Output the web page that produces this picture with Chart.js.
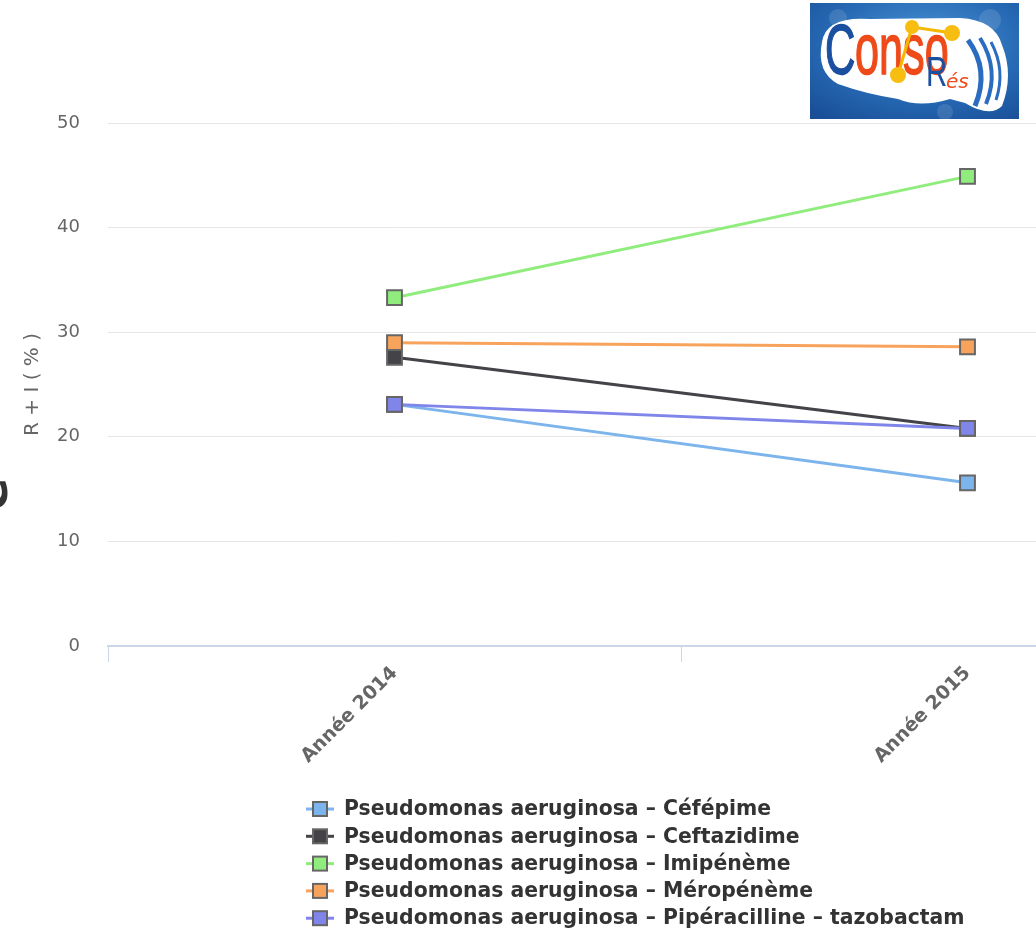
<!DOCTYPE html>
<html>
<head>
<meta charset="utf-8">
<script src="https://cdn.jsdelivr.net/npm/chart.js@4/dist/chart.umd.min.js"></script>
<style>
html,body{margin:0;padding:0;background:#fff;overflow:hidden;width:1036px;height:932px;}
#wrap{position:absolute;left:0;top:0;width:1270px;height:932px;}
#logo{position:absolute;left:810px;top:3px;width:209px;height:116px;}
</style>
</head>
<body>
<div id="wrap"><canvas id="c" width="1270" height="932"></canvas></div>
<svg id="logo" width="209" height="116" viewBox="810 3 209 116" xmlns="http://www.w3.org/2000/svg">
  <defs>
    <radialGradient id="bg" cx="0.55" cy="0.35" r="0.8">
      <stop offset="0" stop-color="#4a95d6"/>
      <stop offset="0.6" stop-color="#2668b3"/>
      <stop offset="1" stop-color="#1a4f98"/>
    </radialGradient>
  </defs>
  <rect x="810" y="3" width="209" height="116" fill="url(#bg)"/>
  <circle cx="838" cy="18" r="9" fill="#ffffff" opacity="0.12"/>
  <circle cx="990" cy="20" r="11" fill="#ffffff" opacity="0.12"/>
  <circle cx="945" cy="112" r="8" fill="#ffffff" opacity="0.12"/>
  <path d="M822,42 Q826,16 870,19 L960,18 Q995,20 1002,45 Q1014,75 1002,106 Q990,118 965,103 L950,99 Q920,108 898,99 Q866,94 838,84 Q816,72 822,42 Z" fill="#ffffff"/>
  <path d="M968,40 Q990,70 975,106" stroke="#2a6cc0" stroke-width="5" fill="none"/>
  <path d="M980,38 Q1000,70 986,104" stroke="#2a6cc0" stroke-width="4" fill="none"/>
  <path d="M991,42 Q1006,70 996,100" stroke="#2a6cc0" stroke-width="3" fill="none"/>
  <g transform="translate(825,74) scale(0.6,1)">
    <text x="0" y="0" font-family="Liberation Sans, Arial" font-size="70" fill="#1b4fa0" stroke="#1b4fa0" stroke-width="1.5">C</text>
    <text x="50" y="0" font-family="Liberation Sans, Arial" font-size="72" fill="#ee4a1a" stroke="#ee4a1a" stroke-width="1.5">onso</text>
  </g>
  <line x1="912" y1="27" x2="952" y2="33" stroke="#f5b800" stroke-width="3"/>
  <line x1="912" y1="27" x2="898" y2="75" stroke="#f5b800" stroke-width="3"/>
  <circle cx="912" cy="27" r="7" fill="#f7bd10"/>
  <circle cx="952" cy="33" r="8" fill="#f7bd10"/>
  <circle cx="898" cy="75" r="8" fill="#f7bd10"/>
  <text x="926" y="86" font-family="Liberation Sans, Arial" font-size="42" fill="#1b4fa0" transform="translate(926,0) scale(0.7,1) translate(-926,0)">R</text>
  <text x="946" y="88" font-family="DejaVu Sans, Arial" font-size="20" font-style="italic" fill="#ee4a1a">és</text>
</svg>
<script>
// ---- data ----
const categories = ['Année 2014', 'Année 2015'];
const seriesNames = [
  'Pseudomonas aeruginosa – Céfépime',
  'Pseudomonas aeruginosa – Ceftazidime',
  'Pseudomonas aeruginosa – Imipénème',
  'Pseudomonas aeruginosa – Méropénème',
  'Pseudomonas aeruginosa – Pipéracilline – tazobactam'
];
const cefepime = [23.1, 15.6];
const ceftazidime = [27.6, 20.8];
const imipeneme = [33.3, 44.9];
const meropeneme = [29.0, 28.6];
const piperacillineTazobactam = [23.1, 20.8];
const seriesColors = ['#7cb5ec', '#434348', '#90ed7d', '#f7a35c', '#8085e9'];
const yTickValues = [0, 10, 20, 30, 40, 50];
const yAxisTitle = 'R + I ( % )';

const seriesValues = [cefepime, ceftazidime, imipeneme, meropeneme, piperacillineTazobactam];

const datasets = seriesValues.map((vals, i) => ({
  label: seriesNames[i],
  data: vals,
  borderColor: seriesColors[i],
  backgroundColor: seriesColors[i],
  pointBackgroundColor: seriesColors[i],
  pointBorderColor: '#666666',
  pointBorderWidth: 2,
  pointStyle: 'rect',
  pointRadius: 10.5,
  pointHoverRadius: 10.5,
  borderWidth: 3,
  tension: 0,
  order: seriesValues.length - i
}));

const customLegend = {
  id: 'customLegend',
  afterDraw(chart) {
    const ctx = chart.ctx;
    ctx.save();
    ctx.font = 'bold 20.4px "DejaVu Sans"';
    ctx.textBaseline = 'middle';
    ctx.textAlign = 'left';
    const x0 = 306, startY = 809, step = 27.3;
    chart.data.datasets.forEach((ds, i) => {
      const y = startY + i * step;
      ctx.strokeStyle = ds.borderColor;
      ctx.lineWidth = 3;
      ctx.beginPath(); ctx.moveTo(x0, y); ctx.lineTo(x0 + 28, y); ctx.stroke();
      ctx.fillStyle = ds.backgroundColor;
      ctx.fillRect(x0 + 7, y - 7, 14, 14);
      ctx.strokeStyle = '#666666';
      ctx.lineWidth = 2;
      ctx.strokeRect(x0 + 7, y - 7, 14, 14);
      ctx.fillStyle = '#333333';
      ctx.fillText(ds.label, 344, y + 1);
    });
    // clipped rotated title fragment at the left edge
    ctx.save();
    ctx.translate(7, 494);
    ctx.rotate(-Math.PI / 2);
    ctx.font = 'bold 48px "DejaVu Sans"';
    ctx.fillStyle = '#333333';
    ctx.textAlign = 'center';
    ctx.textBaseline = 'alphabetic';
    ctx.fillText('e', 0, 0);
    ctx.restore();
    ctx.restore();
  }
};

new Chart(document.getElementById('c'), {
  type: 'line',
  data: { labels: categories, datasets },
  options: {
    responsive: false,
    animation: false,
    events: [],
    layout: { padding: { top: 123, right: 16, bottom: 146, left: 0 } },
    plugins: { legend: { display: false }, tooltip: { enabled: false } },
    scales: {
      x: {
        type: 'category',
        offset: true,
        grid: { offset: true, drawOnChartArea: false, drawTicks: true, tickLength: 16, color: '#ccd6eb', lineWidth: 1 },
        border: { display: true, color: '#ccd6eb', width: 2 },
        ticks: {
          minRotation: 45, maxRotation: 45, autoSkip: false,
          color: '#666666', padding: 0,
          font: { family: '"DejaVu Sans"', size: 19, weight: 'bold' }
        },
        afterFit(s) { s.height = 140; }
      },
      y: {
        min: 0, max: 50,
        afterBuildTicks(s) { s.ticks = yTickValues.map(v => ({ value: v })); },
        grid: { color: '#e6e6e6', lineWidth: 1, drawTicks: false },
        border: { display: false },
        ticks: { color: '#666666', padding: 28, font: { family: '"DejaVu Sans"', size: 18 } },
        title: { display: true, text: yAxisTitle, color: '#666666', padding: { top: 21, bottom: 0 }, font: { family: '"DejaVu Sans"', size: 20 } },
        afterFit(s) { s.width = 108; }
      }
    }
  },
  plugins: [customLegend]
});
</script>
</body>
</html>
